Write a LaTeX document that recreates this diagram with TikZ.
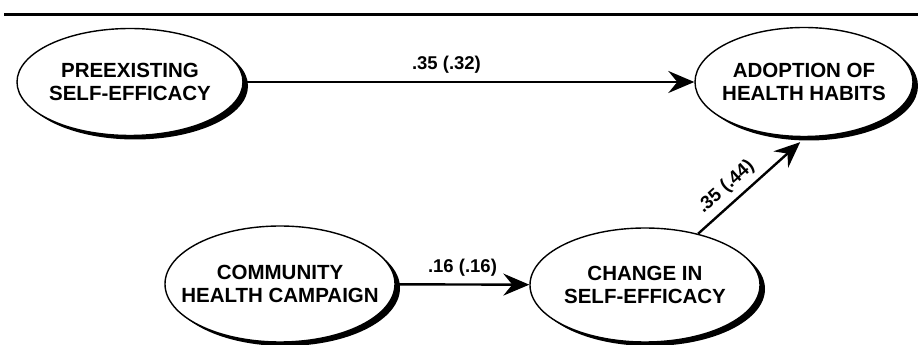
\documentclass[tikz,border=0pt]{standalone}
\usepackage{fontspec}
\setmainfont{Liberation Sans}
\usetikzlibrary{shapes.geometric,shadows,arrows.meta}

\begin{document}
\begin{tikzpicture}[x=1pt,y=1pt,
  var/.style={ellipse,draw,line width=1.4pt,fill=white,align=center,inner xsep=-25pt,inner ysep=0pt,
    font=\fontsize{20.5}{23.5}\selectfont\bfseries,
    drop shadow={shadow xshift=5pt,shadow yshift=-4pt,fill=black,opacity=1}},
  arr/.style={line width=2.4pt,-{Stealth[length=26pt,width=22pt,inset=9pt]}},
  coef/.style={font=\fontsize{18.5}{21}\selectfont\bfseries}]
\useasboundingbox (0,0) rectangle (918,345);
\draw[line width=3pt] (4,330) -- (918,330);

\node[var,minimum width=226pt,minimum height=107pt] (pre) at (130,263) {PREEXISTING\\SELF-EFFICACY};
\node[var,minimum width=218pt,minimum height=109pt] (adopt) at (804,263) {ADOPTION OF\\HEALTH HABITS};
\node[var,minimum width=230pt,minimum height=116pt] (camp) at (280,61) {COMMUNITY\\HEALTH CAMPAIGN};
\node[var,minimum width=230pt,minimum height=114pt] (chg) at (645,60) {CHANGE IN\\SELF-EFFICACY};

\draw[arr] (pre) -- (adopt) node[coef,pos=0.45,above=4pt] {.35 (.32)};
\draw[arr] (camp) -- (chg) node[coef,midway,above=4pt] {.16 (.16)};
\draw[arr] (chg.44) -- ([yshift=-5pt]adopt.266) node[coef,sloped,above=3pt,pos=0.38] {.35 (.44)};
\end{tikzpicture}
\end{document}
